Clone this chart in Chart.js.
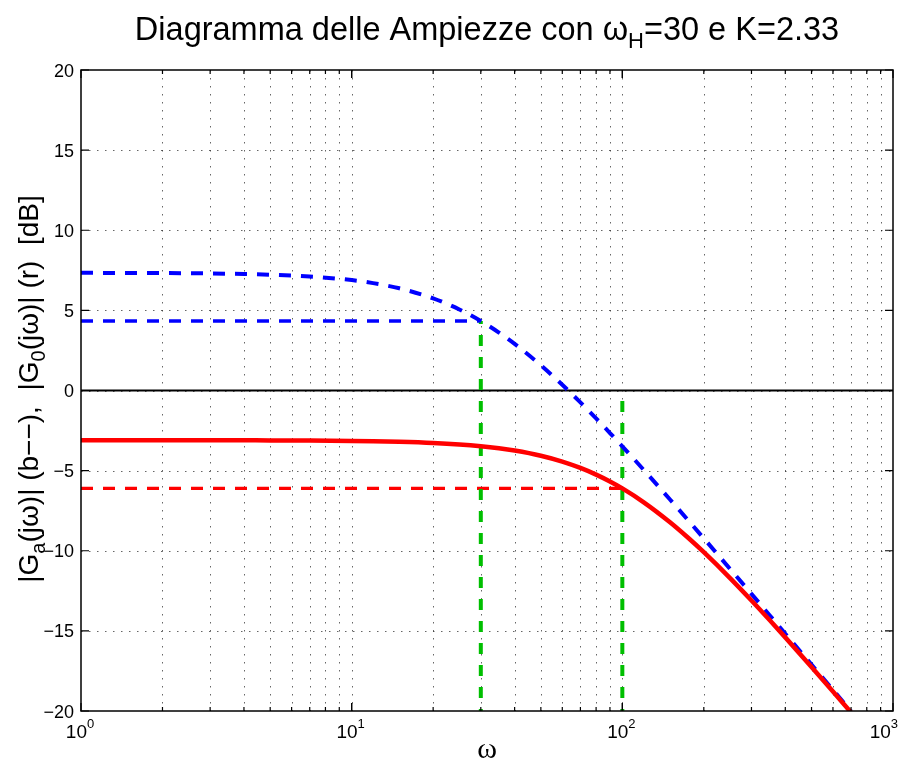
<!DOCTYPE html>
<html>
<head>
<meta charset="utf-8">
<script src="https://cdn.jsdelivr.net/npm/chart.js@4.4.0/dist/chart.umd.min.js"></script>
<style>
  html, body { margin: 0; padding: 0; background: #ffffff; }
  #wrap { width: 908px; height: 769px; }
</style>
</head>
<body>
<div id="wrap"><canvas id="c" width="908" height="769"></canvas></div>
<script>
// Frequency samples (rad/s)
const omega = [1, 1.5, 2, 3, 4, 5, 7, 10, 12, 15, 20, 25, 30, 35, 40, 50, 60, 70, 80, 90,
               100, 120, 150, 175, 200, 250, 300, 350, 400, 500, 600, 700];
// Open-loop magnitude |G0(jw)| in dB
const magG0 = [7.342, 7.336, 7.328, 7.304, 7.271, 7.228, 7.117, 6.889, 6.702, 6.378, 5.750, 5.056,
               4.337, 3.616, 2.910, 1.575, 0.357, -0.745, -1.744, -2.653,
               -3.485, -4.957, -6.803, -8.097, -9.228, -11.132, -12.696, -14.024, -15.176, -17.106, -18.685, -20.021];
// Closed-loop magnitude |Ga(jw)| in dB
const magGa = [-3.102, -3.103, -3.104, -3.106, -3.109, -3.113, -3.123, -3.145, -3.164, -3.199, -3.272, -3.365,
               -3.476, -3.604, -3.747, -4.071, -4.437, -4.834, -5.250, -5.679,
               -6.112, -6.976, -8.221, -9.190, -10.092, -11.705, -13.102, -14.324, -15.406, -17.252, -18.784, -20.092];
// -3 dB reference levels and the frequencies where they are reached
const refLevelG0 = 4.337;
const refLevelGa = -6.112;
const omegaH = 30;
const omegaBand = 100;
const bandMarkerTops = [4.337, 0];
// Axis ticks
const xDecades = [1, 10, 100, 1000];
const xDecadeExp = ['0', '1', '2', '3'];
const yTicks = [-20, -15, -10, -5, 0, 5, 10, 15, 20];
const yTickLabels = ['\u221220', '\u221215', '\u221210', '\u22125', '0', '5', '10', '15', '20'];

const pts = (xs, ys) => xs.map((x, i) => ({ x: x, y: ys[i] }));

const BLUE = '#0000ff', RED = '#ff0000', GREEN = '#00bf00';
const DASH = [12, 10];
const SANS = "'Liberation Sans', Arial, Helvetica, sans-serif";

function drawPieces(ctx, pieces, x, y) {
  // pieces: [text, fontPx, baselineShift]
  let cx = x;
  for (const p of pieces) {
    ctx.font = p[1] + 'px ' + (p[3] || SANS);
    ctx.fillText(p[0], cx, y + p[2]);
    cx += ctx.measureText(p[0]).width;
  }
}
function piecesWidth(ctx, pieces) {
  let w = 0;
  for (const p of pieces) {
    ctx.font = p[1] + 'px ' + (p[3] || SANS);
    w += ctx.measureText(p[0]).width;
  }
  return w;
}

const axesDecor = {
  id: 'axesDecor',
  beforeDatasetsDraw(chart) {
    const { ctx, chartArea: a, scales: { x, y } } = chart;
    ctx.save();
    ctx.strokeStyle = 'rgba(0,0,0,0.6)';
    ctx.lineWidth = 1;
    ctx.setLineDash([1.5, 6.5]);
    // vertical grid at every log tick
    for (const d of [1, 10, 100]) {
      for (let m = 1; m <= 9; m++) {
        const v = m * d;
        if (v <= 1 || v >= 1000) continue;
        const px = Math.round(x.getPixelForValue(v)) + 0.5;
        ctx.beginPath();
        ctx.moveTo(px, a.top);
        ctx.lineTo(px, a.bottom);
        ctx.stroke();
      }
    }
    // horizontal grid at major y ticks
    for (const v of yTicks) {
      if (v === -20 || v === 20) continue;
      const py = Math.round(y.getPixelForValue(v)) + 0.5;
      ctx.beginPath();
      ctx.moveTo(a.left, py);
      ctx.lineTo(a.right, py);
      ctx.stroke();
    }
    ctx.restore();
  },
  afterDatasetsDraw(chart) {
    const { ctx, chartArea: a, scales: { x, y } } = chart;
    ctx.save();
    ctx.setLineDash([]);
    ctx.strokeStyle = '#000';
    ctx.lineWidth = 1.5;
    ctx.strokeRect(a.left, a.top, a.right - a.left, a.bottom - a.top);

    // tick marks (inward, on all four sides)
    ctx.lineWidth = 1.2;
    for (const d of [1, 10, 100]) {
      for (let m = 1; m <= 10; m++) {
        const v = m * d;
        if (v > 1000) continue;
        const px = x.getPixelForValue(v);
        const len = (m === 1 || m === 10) ? 8 : 4;
        ctx.beginPath();
        ctx.moveTo(px, a.bottom); ctx.lineTo(px, a.bottom - len);
        ctx.moveTo(px, a.top); ctx.lineTo(px, a.top + len);
        ctx.stroke();
      }
    }
    for (const v of yTicks) {
      const py = y.getPixelForValue(v);
      ctx.beginPath();
      ctx.moveTo(a.left, py); ctx.lineTo(a.left + 8, py);
      ctx.moveTo(a.right, py); ctx.lineTo(a.right - 8, py);
      ctx.stroke();
    }

    ctx.fillStyle = '#000';
    ctx.textBaseline = 'alphabetic';
    // y tick labels
    ctx.textAlign = 'right';
    ctx.font = '18px ' + SANS;
    yTicks.forEach((v, i) => {
      ctx.fillText(yTickLabels[i], a.left - 7, y.getPixelForValue(v) + 6.5);
    });
    // x tick labels 10^n, kept inside the canvas on the right
    ctx.textAlign = 'left';
    xDecades.forEach((v, i) => {
      const pieces = [['10', 19, 0], [xDecadeExp[i], 13, -10]];
      const w = piecesWidth(ctx, pieces);
      let left = x.getPixelForValue(v) - w / 2 - 1;
      if (left + w > 898) left = 898 - w;
      drawPieces(ctx, pieces, left, a.bottom + 27);
    });

    // x axis label
    ctx.textAlign = 'center';
    ctx.font = "30px 'Liberation Serif', 'Times New Roman', serif";
    ctx.fillText('\u03c9', (a.left + a.right) / 2, 758);

    // title
    ctx.textAlign = 'left';
    const title = [['Diagramma delle Ampiezze con \u03c9', 32.5, 0], ['H', 22, 8], ['=30 e K=2.33', 32.5, 0]];
    const tw = piecesWidth(ctx, title);
    drawPieces(ctx, title, 487 - tw / 2, 40);

    // y axis label, rotated
    const ylab = [['|G', 28, 0], ['a', 20, 7], ['(j\u03c9)| (b\u2212\u2212),  |G', 28, 0], ['0', 20, 7],
                  ['(j\u03c9)| (r)  [dB]', 28, 0]];
    const yw = piecesWidth(ctx, ylab);
    ctx.translate(38, 389);
    ctx.rotate(-Math.PI / 2);
    drawPieces(ctx, ylab, -yw / 2, 0);
    ctx.restore();
  }
};

new Chart(document.getElementById('c'), {
  type: 'line',
  data: {
    datasets: [
      { data: pts(omega, magGa), borderColor: RED, borderWidth: 4.5, order: 0,
        cubicInterpolationMode: 'monotone', borderJoinStyle: 'round' },
      { data: pts(omega, magG0), borderColor: BLUE, borderWidth: 4, borderDash: DASH, order: 1,
        cubicInterpolationMode: 'monotone' },
      { data: [{ x: omegaH, y: -20 }, { x: omegaH, y: bandMarkerTops[0] }], borderColor: GREEN,
        borderWidth: 4, borderDash: [11, 11], borderDashOffset: 9, order: 2 },
      { data: [{ x: omegaBand, y: -20 }, { x: omegaBand, y: bandMarkerTops[1] }], borderColor: GREEN,
        borderWidth: 4, borderDash: [11, 11], borderDashOffset: 9, order: 2 },
      { data: [{ x: 1, y: refLevelGa }, { x: omegaBand, y: refLevelGa }], borderColor: RED,
        borderWidth: 3.2, borderDash: DASH, order: 3 },
      { data: [{ x: 1, y: refLevelG0 }, { x: omegaH, y: refLevelG0 }], borderColor: BLUE,
        borderWidth: 3.5, borderDash: DASH, order: 4 },
      { data: [{ x: 1, y: 0 }, { x: 1000, y: 0 }], borderColor: '#000', borderWidth: 1.8, order: 5 }
    ]
  },
  options: {
    responsive: false,
    animation: false,
    devicePixelRatio: 1,
    layout: { padding: { left: 81, top: 70, right: 15, bottom: 58 } },
    elements: { point: { radius: 0 }, line: { tension: 0, fill: false } },
    plugins: { legend: { display: false }, tooltip: { enabled: false }, title: { display: false } },
    scales: {
      x: { type: 'logarithmic', min: 1, max: 1000, display: false },
      y: { type: 'linear', min: -20, max: 20, display: false }
    }
  },
  plugins: [axesDecor]
});
</script>
</body>
</html>
